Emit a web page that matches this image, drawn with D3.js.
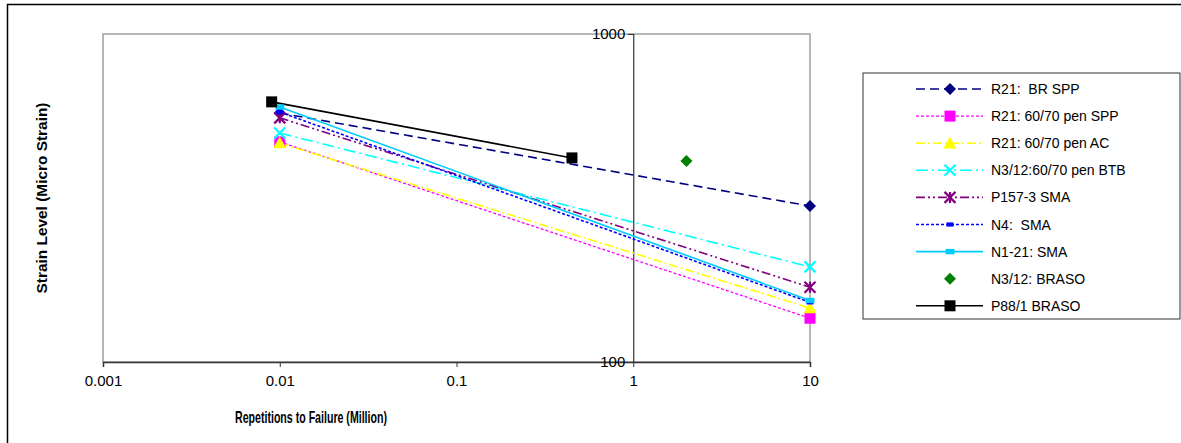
<!DOCTYPE html>
<html>
<head>
<meta charset="utf-8">
<script src="https://cdn.jsdelivr.net/npm/d3@7"></script>
<style>
  body { margin: 0; background: #fff; }
  svg { display: block; font-family: "Liberation Sans", Arial, sans-serif; }
</style>
</head>
<body>
<svg width="1181" height="443"></svg>
<script>
// data
const xTicks = [0.001, 0.01, 0.1, 1, 10];
const yTicks = [100, 1000];

const seriesNames = [
  "R21:  BR SPP",
  "R21: 60/70 pen SPP",
  "R21: 60/70 pen AC",
  "N3/12:60/70 pen BTB",
  "P157-3 SMA",
  "N4:  SMA",
  "N1-21: SMA",
  "N3/12: BRASO",
  "P88/1 BRASO"
];
const brSpp = [[0.01, 574], [10, 299]];
const penSpp = [[0.01, 469], [10, 136]];
const penAc = [[0.01, 465], [10, 146]];
const penBtb = [[0.01, 499], [10, 195]];
const p157 = [[0.01, 555], [10, 169]];
const n4 = [[0.01, 578], [10, 152]];
const n121 = [[0.01, 599], [10, 154]];
const n312Braso = [[2, 410]];
const p88Braso = [[0.009, 621], [0.45, 419]];

const seriesValues = [brSpp, penSpp, penAc, penBtb, p157, n4, n121, n312Braso, p88Braso];

// styles
const styles = [
  { color: "#000080", dash: "9,5", width: 1.6, marker: "diamond", size: 6, line: true },
  { color: "#ff00ff", dash: "3,2", width: 1.3, marker: "square", size: 5.5, line: true },
  { color: "#ffff00", dash: "9,3,2,3", width: 1.6, marker: "triangle", size: 6.5, line: true },
  { color: "#00ffff", dash: "12,4,2,4", width: 1.6, marker: "x", size: 5.5, line: true },
  { color: "#800080", dash: "9,3,2,3,2,3", width: 1.6, marker: "star", size: 5.5, line: true },
  { color: "#0000ff", dash: "3,2", width: 1.6, marker: "bar", size: 3.5, line: true },
  { color: "#00ccff", dash: null, width: 1.6, marker: "bar", size: 4.5, line: true },
  { color: "#008000", dash: null, width: 1, marker: "diamond", size: 6, line: false },
  { color: "#000000", dash: null, width: 1.6, marker: "square", size: 5.5, line: true }
];

const svg = d3.select("svg");
const plotLeft = 103, plotRight = 810, plotTop = 34, plotBottom = 362;

// outer frame (right and bottom edges fall outside the picture)
svg.append("rect")
  .attr("x", 7.5).attr("y", 4.5)
  .attr("width", 1200).attr("height", 460)
  .attr("fill", "none").attr("stroke", "#000").attr("stroke-width", 1.5);

const x = d3.scaleLog().domain([0.001, 10]).range([plotLeft, plotRight]);
const y = d3.scaleLog().domain([100, 1000]).range([plotBottom, plotTop]);

// plot frame
svg.append("rect")
  .attr("x", plotLeft).attr("y", plotTop)
  .attr("width", plotRight - plotLeft).attr("height", plotBottom - plotTop)
  .attr("fill", "#fff").attr("stroke", "#a0a0a0").attr("stroke-width", 1.5);

// x axis at bottom
const xAxis = svg.append("g")
  .attr("transform", `translate(0,${plotBottom})`)
  .call(d3.axisBottom(x).tickValues(xTicks).tickFormat(d3.format("~g")).tickSize(5).tickPadding(8));
xAxis.select(".domain").attr("stroke", "#333").attr("stroke-width", 1.5);
xAxis.selectAll(".tick line").attr("stroke", "#333");
xAxis.selectAll("text").attr("font-size", 15).attr("fill", "#000")
  .attr("font-family", "Liberation Sans, Arial, sans-serif");

// y axis crosses at x = 1
const yAxis = svg.append("g")
  .attr("transform", `translate(${x(1)},0)`)
  .call(d3.axisLeft(y).tickValues(yTicks).tickFormat(d3.format("d")).tickSize(5).tickPadding(3));
yAxis.select(".domain").attr("stroke", "#333").attr("stroke-width", 1.2);
yAxis.selectAll(".tick line").attr("stroke", "#333");
yAxis.selectAll("text").attr("font-size", 15).attr("fill", "#000")
  .attr("font-family", "Liberation Sans, Arial, sans-serif");

// axis titles
svg.append("text")
  .attr("x", 311).attr("y", 423)
  .attr("text-anchor", "middle")
  .attr("font-size", 17).attr("font-weight", "bold")
  .attr("textLength", 152).attr("lengthAdjust", "spacingAndGlyphs")
  .text("Repetitions to Failure (Million)");

svg.append("text")
  .attr("transform", "translate(47,198) rotate(-90)")
  .attr("text-anchor", "middle")
  .attr("font-size", 15).attr("font-weight", "bold")
  .attr("textLength", 191).attr("lengthAdjust", "spacingAndGlyphs")
  .text("Strain Level (Micro Strain)");

function drawMarker(g, type, s, color) {
  if (type === "diamond") {
    g.append("path").attr("d", `M0,${-s}L${s},0L0,${s}L${-s},0Z`).attr("fill", color);
  } else if (type === "square") {
    g.append("rect").attr("x", -s).attr("y", -s).attr("width", 2 * s).attr("height", 2 * s).attr("fill", color);
  } else if (type === "triangle") {
    g.append("path").attr("d", `M0,${-s}L${s},${s * 0.8}L${-s},${s * 0.8}Z`).attr("fill", color);
  } else if (type === "x") {
    g.append("path").attr("d", `M${-s},${-s}L${s},${s}M${s},${-s}L${-s},${s}`)
      .attr("stroke", color).attr("stroke-width", 2.2);
  } else if (type === "star") {
    g.append("path").attr("d", `M${-s},${-s}L${s},${s}M${s},${-s}L${-s},${s}M0,${-s}L0,${s}`)
      .attr("stroke", color).attr("stroke-width", 2.2);
  } else if (type === "bar") {
    g.append("rect").attr("x", -s).attr("y", -s * 0.6).attr("width", 2 * s).attr("height", 1.2 * s).attr("fill", color);
  }
}

const line = d3.line().x(d => x(d[0])).y(d => y(d[1]));

seriesValues.forEach((vals, i) => {
  const st = styles[i];
  if (st.line && vals.length > 1) {
    svg.append("path")
      .datum(vals)
      .attr("d", line)
      .attr("fill", "none")
      .attr("stroke", st.color)
      .attr("stroke-width", st.width)
      .attr("stroke-dasharray", st.dash);
  }
});
seriesValues.forEach((vals, i) => {
  const st = styles[i];
  vals.forEach(d => {
    const g = svg.append("g").attr("transform", `translate(${x(d[0])},${y(d[1])})`);
    drawMarker(g, st.marker, st.size, st.color);
  });
});

// legend
const legend = svg.append("g");
legend.append("rect")
  .attr("x", 863).attr("y", 73).attr("width", 317).attr("height", 246)
  .attr("fill", "#fff").attr("stroke", "#333").attr("stroke-width", 1);

seriesNames.forEach((name, i) => {
  const st = styles[i];
  const ly = 89 + i * 27.1;
  if (st.line) {
    legend.append("line")
      .attr("x1", 916).attr("x2", 983).attr("y1", ly).attr("y2", ly)
      .attr("stroke", st.color).attr("stroke-width", st.width)
      .attr("stroke-dasharray", st.dash);
  }
  const g = legend.append("g").attr("transform", `translate(950,${ly})`);
  drawMarker(g, st.marker, st.size, st.color);
  legend.append("text")
    .attr("x", 991).attr("y", ly + 5)
    .attr("font-size", 14)
    .style("white-space", "pre")
    .text(name);
});
</script>
</body>
</html>
